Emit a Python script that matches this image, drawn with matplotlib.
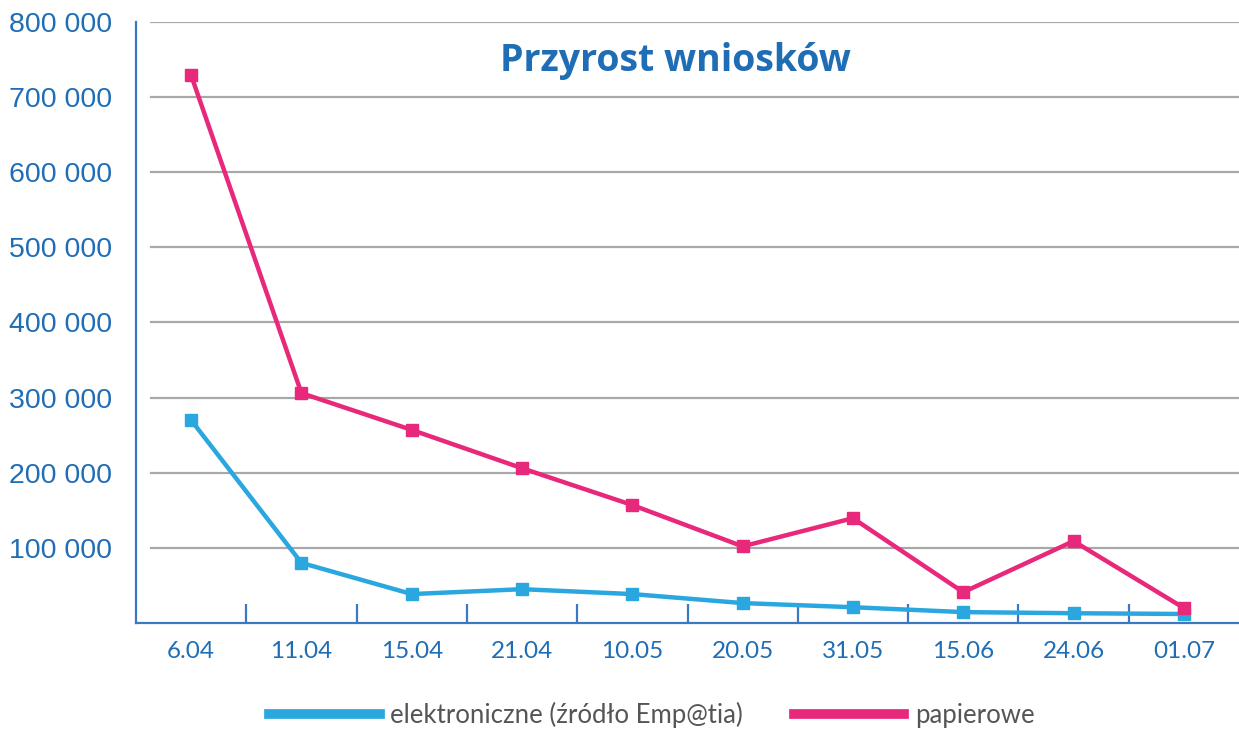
import numpy as np
import matplotlib.pyplot as plt
from matplotlib.lines import Line2D

# dane
daty = ['6.04', '11.04', '15.04', '21.04', '10.05', '20.05', '31.05', '15.06', '24.06', '01.07']
elektroniczne = [270000, 80000, 38500, 45000, 38500, 26500, 21000, 14500, 13000, 12000]
papierowe = [729000, 306000, 257000, 206000, 157000, 102000, 139500, 41000, 109000, 20000]

NIEBIESKI = '#2aa7df'
ROZOWY = '#e8287a'
TEKST = '#1f6db5'
OS = '#3a78c2'

plt.rcParams['font.family'] = ['Lato', 'DejaVu Sans']

fig = plt.figure(figsize=(12.39, 7.29), dpi=100)
ax = fig.add_axes([136 / 1239, 1 - 623 / 729, 1 - 136 / 1239, (623 - 22) / 729])

x = np.arange(len(daty))

# siatka pozioma
for v in range(100000, 900000, 100000):
    ax.axhline(v, xmin=15 / 1103, xmax=1, color='#a8a8a8', linewidth=1.6, zorder=1)

ax.plot(x, elektroniczne, color=NIEBIESKI, linewidth=3.2, marker='s', markersize=9, zorder=3)
ax.plot(x, papierowe, color=ROZOWY, linewidth=3.2, marker='s', markersize=9, zorder=4)

ax.set_xlim(-0.5, len(daty) - 0.5)
ax.set_ylim(0, 800000)

for s in ['top', 'right']:
    ax.spines[s].set_visible(False)
ax.spines['left'].set_color(OS)
ax.spines['bottom'].set_color(OS)
ax.spines['left'].set_linewidth(1.6)
ax.spines['bottom'].set_linewidth(1.6)

# etykiety osi X
ax.set_xticks(x)
ax.set_xticklabels(daty, color=TEKST, fontsize=17.5)
ax.tick_params(axis='x', length=0, pad=13)
ax.set_xticks(np.arange(0.5, len(daty) - 1, 1), minor=True)
ax.tick_params(axis='x', which='minor', direction='in', length=14, width=1.6, color=OS)

# etykiety osi Y
yt = np.arange(100000, 900000, 100000)
ax.set_yticks(yt)
ax.set_yticklabels([f'{v:,}'.replace(',', ' ') for v in yt], color=TEKST,
                   fontsize=20.5, family=['Liberation Sans Narrow', 'Liberation Sans'])
ax.tick_params(axis='y', length=0, pad=17)

ax.text(0.489, 0.935, 'Przyrost wniosków', transform=ax.transAxes, ha='center', va='center',
        fontsize=27, fontweight='bold', color=TEKST, family=['Open Sans', 'DejaVu Sans'])

uchwyty = [Line2D([], [], color=NIEBIESKI, linewidth=7),
           Line2D([], [], color=ROZOWY, linewidth=7)]
fig.legend(uchwyty, ['elektroniczne (źródło Emp@tia)', 'papierowe'], loc='lower center',
           bbox_to_anchor=(0.526, -0.03), ncol=2, frameon=False, fontsize=18.5,
           handlelength=4.3, columnspacing=2.0, handletextpad=0.4, labelcolor='#555555')

fig.savefig('out.png', dpi=100)
